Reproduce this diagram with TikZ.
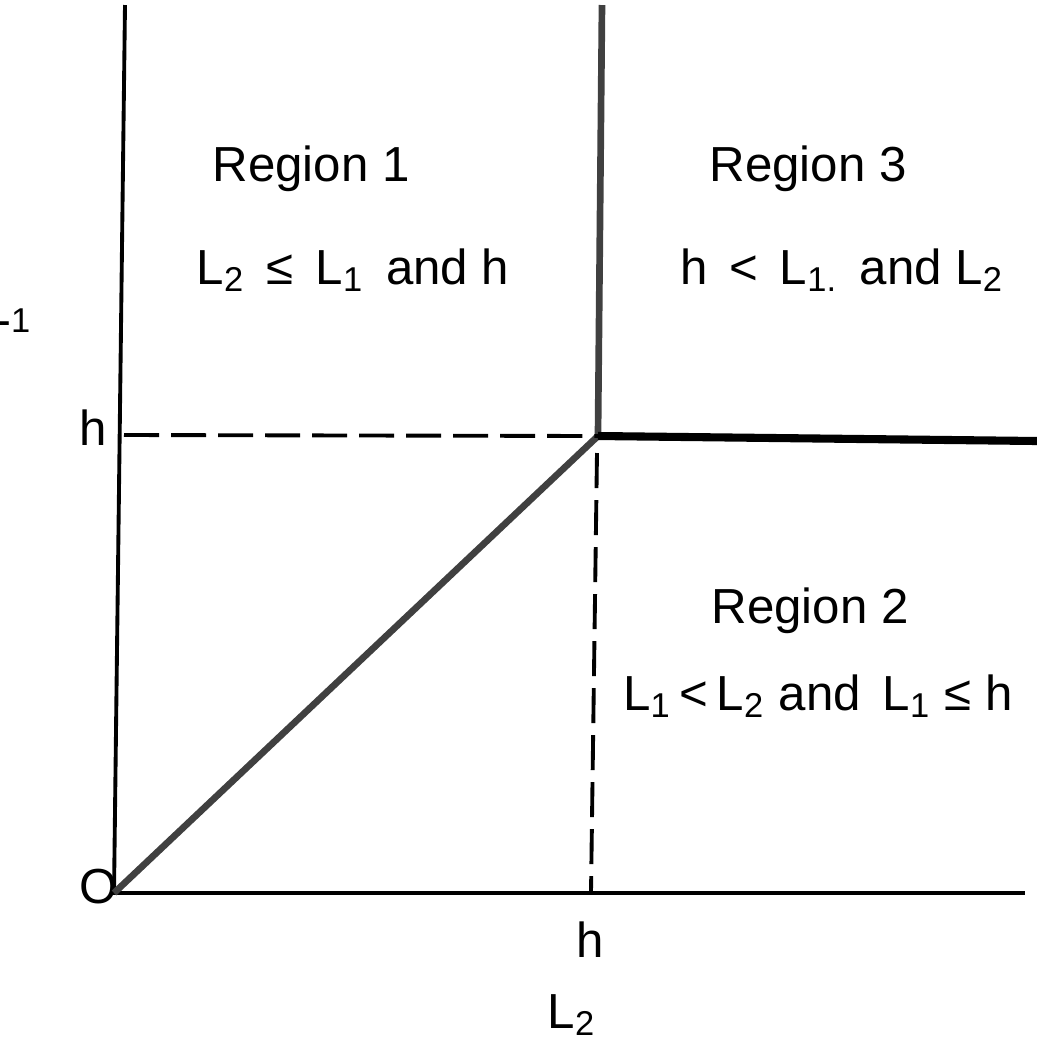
\documentclass[tikz,border=0pt]{standalone}
\usepackage{fontspec}
\setmainfont{Liberation Sans}
\usetikzlibrary{calc}

\begin{document}
\begin{tikzpicture}[x=0.01cm, y=-0.01cm,
    every node/.style={font=\fontsize{14}{16}\selectfont, inner sep=0pt, anchor=base},
    axis/.style={line width=1.1pt},
    bound/.style={line width=1.9pt, black!75},
    guide/.style={line width=1.1pt, dash pattern=on 0.35cm off 0.12cm}]
        \useasboundingbox (0,0) rectangle (1037,1047);
        \clip (0,0) rectangle (1037,1047);
        % axes
        \coordinate (O) at (114,893);
        \coordinate (ytop) at (125,5);
        \coordinate (xend) at (1025,893);
        \draw[axis] (ytop) -- (O) -- (xend);
        \node (olab) at (99,903) {O};
        \node (xlab) at (572,1028) {L\textsubscript{2}};
        \node[anchor=base west] (ylab) at (-17,325) {L\textsubscript{1}};
        % boundaries between the regions
        \coordinate (corner) at (598,436);
        \coordinate (ctop) at (602,5);
        \coordinate (cright) at (1037,441);
        \draw[bound] (O) -- (corner) -- (ctop);
        \draw[bound, black, line width=2.3pt] (corner) -- (cright);
        % dashed lines at h
        \coordinate (hy) at (124,435);
        \coordinate (hdown) at (597,453);
        \coordinate (hx) at (591,893);
        \draw[guide] (hy) -- (corner);
        \draw[guide] (hdown) -- (hx);
        \node (hleft) at (93,445) {h};
        \node (hbot) at (590,957) {h};
        % regions
        \node (r1) at (311,181) {Region 1};
        \node (r1c) at (353,284) {L\textsubscript{2} \,≤\, L\textsubscript{1} \,and h};
        \node (r3) at (808,181) {Region 3};
        \node (r3c) at (842,284) {h \,<\, L\textsubscript{1.} \,and L\textsubscript{2}};
        \node (r2) at (810,623) {Region 2};
        \node (r2c) at (818,710) {L\textsubscript{1}\,<\,L\textsubscript{2} and \,L\textsubscript{1} ≤ h};
\end{tikzpicture}
\end{document}
